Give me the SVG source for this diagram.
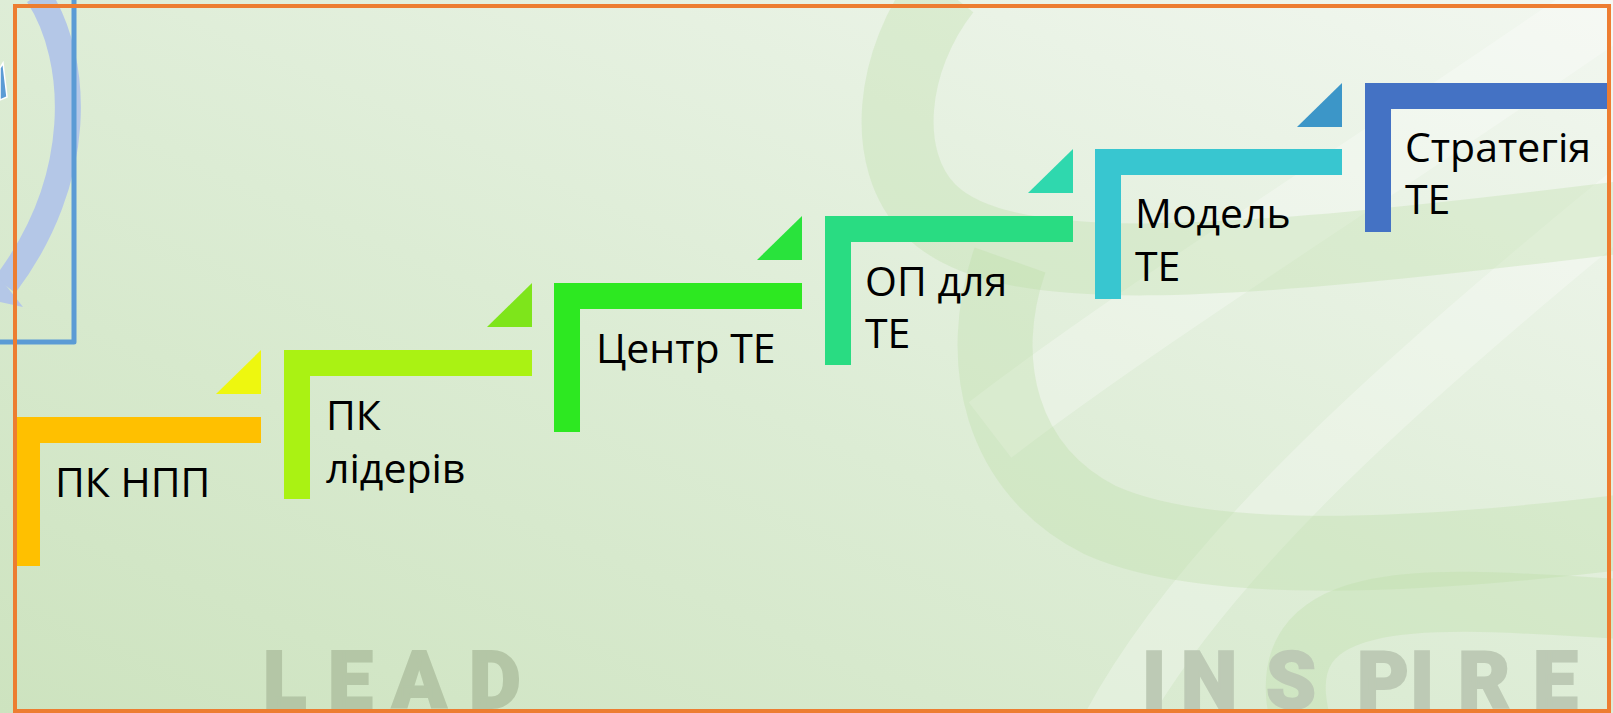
<svg xmlns="http://www.w3.org/2000/svg" width="1613" height="713" viewBox="0 0 1613 713">
<defs>
<linearGradient id="bg" x1="0" y1="1" x2="1" y2="0">
<stop offset="0" stop-color="#cde3bf"/>
<stop offset="0.45" stop-color="#dcecd4"/>
<stop offset="0.8" stop-color="#eaf3e6"/>
<stop offset="1" stop-color="#f2f7f0"/>
</linearGradient>
<style>
.lbl{font-family:'Open Sans','Noto Sans','DejaVu Sans',sans-serif;font-size:41px;fill:#000}
.wm{font-family:Roboto,'Liberation Sans',sans-serif;font-weight:900;font-size:80px;stroke-width:2;stroke-linejoin:miter}
.rib{fill:none;stroke:#bcdca4;stroke-opacity:.32;stroke-linecap:butt}
.ribw{fill:none;stroke:#ffffff;stroke-opacity:.28;stroke-linecap:butt}
</style>
</defs>
<rect x="0" y="0" width="1613" height="713" fill="url(#bg)"/>
<g id="ribbons">
<path class="ribw" stroke-width="70" d="M1660 -30 C1420 140 1160 300 990 430"/>
<path class="ribw" stroke-width="60" d="M1110 730 C1200 560 1400 380 1660 170"/>
<path class="rib" stroke-width="72" d="M945 -10 C890 60 880 160 930 210 C1000 280 1200 270 1640 215"/>
<path class="rib" stroke-width="75" d="M1010 260 C975 360 1000 470 1100 520 C1200 565 1400 560 1640 530"/>
<path class="rib" stroke-width="60" d="M1640 610 C1450 600 1265 575 1300 720"/>
</g>
<g id="watermark">
<text class="wm" fill="#b4c6a6" stroke="#b4c6a6" x="263 328 392 469" y="708">LEAD</text>
<text class="wm" fill="#bdcab5" stroke="#bdcab5" x="1142 1181 1266 1357 1410 1458 1533" y="708">INSPIRE</text>
</g>
<g id="left-fragment">
<path d="M38 -5 C80 60 85 180 5 285" fill="none" stroke="#b4c7e7" stroke-width="26"/>
<polygon points="0,278 23,307 0,302" fill="#b4c7e7"/>
<polygon points="0,68 3,63 7,97 0,100" fill="#5b9bd5" stroke="#ffffff" stroke-width="1.5"/>
<path d="M74 -5 V342 H-5" fill="none" stroke="#5b9bd5" stroke-width="5" stroke-linejoin="round"/>
</g>
<g id="connectors">
<polygon points="216,394 261,350 261,394" fill="#eef70f"/>
<polygon points="487,327 532,283 532,327" fill="#7ee51b"/>
<polygon points="757,260 802,216 802,260" fill="#29e33c"/>
<polygon points="1028,193 1073,149 1073,193" fill="#2fd8ae"/>
<polygon points="1297,127 1342,83 1342,127" fill="#3c96c8"/>
</g>
<g id="step1">
<path d="M14 417 H261 V443 H40 V566 H14 Z" fill="#ffc000"/>
<text class="lbl" x="55" y="497">ПК НПП</text>
</g>
<g id="step2">
<path d="M284 350 H532 V376 H310 V499 H284 Z" fill="#aaf213"/>
<text class="lbl" x="326" y="430">ПК</text>
<text class="lbl" x="326" y="483">лідерів</text>
</g>
<g id="step3">
<path d="M554 283 H802 V309 H580 V432 H554 Z" fill="#2de821"/>
<text class="lbl" x="596" y="363">Центр ТЕ</text>
</g>
<g id="step4">
<path d="M825 216 H1073 V242 H851 V365 H825 Z" fill="#29dc82"/>
<text class="lbl" x="865" y="296">ОП для</text>
<text class="lbl" x="865" y="348">ТЕ</text>
</g>
<g id="step5">
<path d="M1095 149 H1342 V175 H1121 V299 H1095 Z" fill="#38c6d0"/>
<text class="lbl" x="1135" y="228">Модель</text>
<text class="lbl" x="1135" y="281">ТЕ</text>
</g>
<g id="step6">
<path d="M1365 83 H1610 V109 H1391 V232 H1365 Z" fill="#4472c4"/>
<text class="lbl" x="1405" y="162">Стратегія</text>
<text class="lbl" x="1405" y="214">ТЕ</text>
</g>
<rect id="frame" x="15" y="6" width="1594" height="705" fill="none" stroke="#ed7d31" stroke-width="4"/>
</svg>
